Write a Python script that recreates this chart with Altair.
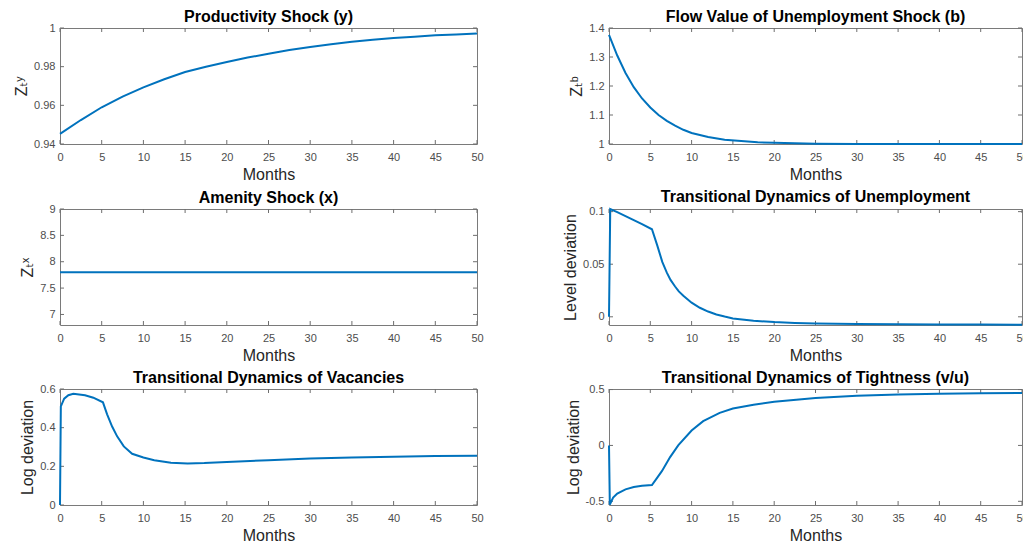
import altair as alt
import pandas as pd

# x ticks shared by every panel
month_ticks = [0, 5, 10, 15, 20, 25, 30, 35, 40, 45, 50]

# Productivity shock (y)
months_y = [0, 2.5, 5, 7.5, 10, 12.5, 15, 17.5, 20, 22.5, 25, 27.5, 30, 32.5, 35, 37.5, 40, 42.5, 45, 47.5, 50]
zy = [0.9452, 0.9524, 0.9590, 0.9645, 0.9693, 0.9735, 0.9772, 0.9800, 0.9824, 0.9847, 0.9867,
      0.9886, 0.9902, 0.9916, 0.9929, 0.9939, 0.9948, 0.9955, 0.9962, 0.9967, 0.9972]

# Flow value of unemployment shock (b)
months_b = [0, 1, 2, 3, 4, 5, 6, 7, 8, 9, 10, 12, 14, 16, 18, 20, 25, 30, 35, 40, 45, 50]
zb = [1.376, 1.305, 1.245, 1.196, 1.157, 1.126, 1.100, 1.080, 1.063, 1.049, 1.038,
      1.024, 1.015, 1.010, 1.006, 1.004, 1.001, 1.000, 1.000, 1.000, 1.000, 1.000]

# Amenity shock (x)
months_x = [0, 50]
zx = [7.8, 7.8]

# Unemployment, level deviation
months_u = [0, 0.15, 1, 2, 3, 4, 5.2, 5.85, 6.45, 7, 7.45, 8, 8.45, 9, 10, 11, 12, 13, 14, 15,
            17.5, 20, 22.5, 25, 30, 35, 40, 45, 50]
unemp = [0, 0.1025, 0.0995, 0.0958, 0.0920, 0.0882, 0.0832, 0.0677, 0.0522, 0.0420, 0.0351,
         0.0288, 0.0242, 0.0200, 0.0134, 0.0086, 0.0050, 0.0022, 0.0002, -0.0016,
         -0.0037, -0.0050, -0.0058, -0.0063, -0.0068, -0.0071, -0.0073, -0.0074, -0.0075]

# Vacancies, log deviation
months_v = [0, 0.1, 0.5, 1, 1.6, 3, 4, 5.15, 5.65, 6.25, 6.85, 7.65, 8.65, 10, 11.3, 13.3, 15.3,
            17.3, 20, 25, 30, 35, 40, 45, 50]
vac = [0, 0.510, 0.550, 0.568, 0.575, 0.568, 0.555, 0.531, 0.469, 0.406, 0.355, 0.303, 0.265,
       0.246, 0.232, 0.219, 0.215, 0.217, 0.223, 0.232, 0.240, 0.246, 0.250, 0.253, 0.255]

# Tightness (v/u), log deviation
months_th = [0, 0.1, 0.5, 1, 2, 3, 4, 5.2, 5.8, 6.4, 7.4, 8.4, 10, 11.4, 13.4, 15, 17.5, 20,
             25, 30, 35, 40, 45, 50]
tight = [0, -0.530, -0.467, -0.430, -0.393, -0.372, -0.360, -0.354, -0.292, -0.230, -0.104,
         0.003, 0.134, 0.217, 0.292, 0.330, 0.365, 0.390, 0.425, 0.445, 0.456, 0.462, 0.466, 0.469]

H = 116
W_LEFT, W_RIGHT = 417, 413
TICK = 4
BLUE = "#0072BD"
FONT = "Liberation Sans, DejaVu Sans, sans-serif"


def panel(months, values, title, ytitle, ydomain, yticks, W, title_dy=6):
    x = alt.X("month:Q", scale=alt.Scale(domain=[0, 50], nice=False),
              axis=alt.Axis(values=month_ticks, title="Months"))
    y = alt.Y("value:Q", scale=alt.Scale(domain=ydomain, nice=False, zero=False),
              axis=alt.Axis(values=yticks, title=ytitle, labelExpr="datum.value + ''"))

    line = alt.Chart(pd.DataFrame({"month": months, "value": values})).mark_line(
        color=BLUE, strokeWidth=2
    ).encode(x=x, y=y)

    # MATLAB style inward ticks on all four sides
    xt = alt.Chart(pd.DataFrame({"month": month_ticks}))
    yt = alt.Chart(pd.DataFrame({"value": yticks}))
    rule = dict(color="#6e6e6e", strokeWidth=1)
    bottom = xt.mark_rule(**rule).encode(x=x, y=alt.value(H), y2=alt.value(H - TICK))
    top = xt.mark_rule(**rule).encode(x=x, y=alt.value(0), y2=alt.value(TICK))
    left = yt.mark_rule(**rule).encode(y=y, x=alt.value(0), x2=alt.value(TICK))
    right = yt.mark_rule(**rule).encode(y=y, x=alt.value(W), x2=alt.value(W - TICK))

    # title offset is measured from the panel bounds, which the top tick label
    # pushes up by a varying amount; title_dy evens that out
    return alt.layer(bottom, top, left, right, line).properties(
        width=W, height=H, title=alt.TitleParams(title, dy=title_dy)
    )


p_y = panel(months_y, zy, "Productivity Shock (y)", "Zₜʸ", [0.94, 1.0],
            [0.94, 0.96, 0.98, 1], W_LEFT)
p_b = panel(months_b, zb, "Flow Value of Unemployment Shock (b)", "Zₜᵇ", [1.0, 1.4],
            [1, 1.1, 1.2, 1.3, 1.4], W_RIGHT)
p_x = panel(months_x, zx, "Amenity Shock (x)", "Zₜˣ", [6.8, 9.0],
            [7, 7.5, 8, 8.5, 9], W_LEFT)
p_u = panel(months_u, unemp, "Transitional Dynamics of Unemployment", "Level deviation",
            [-0.0078, 0.1025], [0, 0.05, 0.1], W_RIGHT, title_dy=3.3)
p_v = panel(months_v, vac, "Transitional Dynamics of Vacancies", "Log deviation",
            [0, 0.6], [0, 0.2, 0.4, 0.6], W_LEFT)
p_t = panel(months_th, tight, "Transitional Dynamics of Tightness (v/u)", "Log deviation",
            [-0.533, 0.505], [-0.5, 0, 0.5], W_RIGHT, title_dy=5.4)

chart = alt.concat(
    p_y, p_b, p_x, p_u, p_v, p_t, columns=2,
    spacing={"row": 5, "column": 78}
).properties(
    padding={"left": 5, "top": 0, "right": -6, "bottom": 0}
).configure_view(
    stroke="#7a7a7a", strokeWidth=1
).configure_axis(
    domain=False, ticks=False, grid=False, labelFlush=False,
    labelFont=FONT, labelFontSize=11, labelColor="#4d4d4d",
    titleFont=FONT, titleFontSize=16, titleFontWeight="normal", titleColor="#262626",
    titlePadding=4
).configure_axisX(
    labelPadding=7
).configure_axisY(
    labelPadding=5
).configure_title(
    font=FONT, fontSize=16, fontWeight="bold", color="#000000", anchor="middle", offset=3
)

chart.save("out.html", embed_options={"renderer": "svg", "actions": False})
